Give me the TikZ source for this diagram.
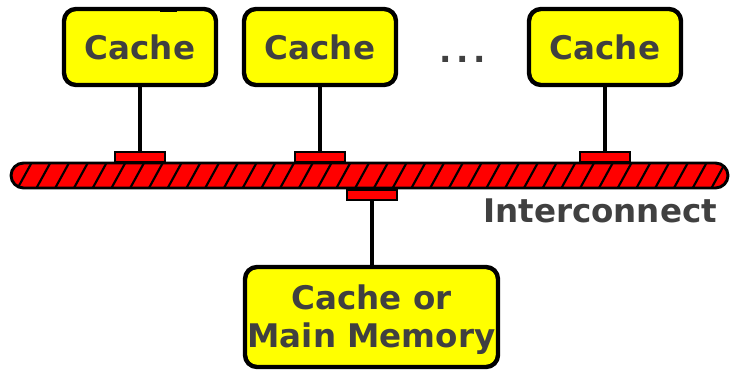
\documentclass[tikz,border=0pt]{standalone}
\usepackage{fontspec}
\setmainfont{DejaVu Sans}
\definecolor{textgray}{HTML}{404040}
\definecolor{boxyellow}{HTML}{FFFF00}
\definecolor{busred}{HTML}{FF0000}
\tikzset{
  unitbox/.style={draw=black, line width=3.3pt, fill=boxyellow, rounded corners=9pt,
    inner sep=0pt, text=textgray, align=center,
    font=\bfseries\fontsize{24.4}{28.5}\selectfont},
  tap/.style={draw=black, line width=1.6pt, fill=busred, inner sep=0pt,
    minimum width=50*0.75pt, minimum height=10*0.75pt},
  stem/.style={line width=3.3pt, black},
  hatch/.style={line width=1.6pt, black},
  label/.style={text=textgray, inner sep=0pt, align=center,
    font=\bfseries\fontsize{24.4}{28.5}\selectfont}
}
\begin{document}
\begin{tikzpicture}[x=0.75pt, y=-0.75pt]
\useasboundingbox (0,0) rectangle (730,371);

% processor-side caches
\node[unitbox, minimum width=152*0.75pt, minimum height=76*0.75pt] (cache1) at (140,47) {Cache};
\node[unitbox, minimum width=152*0.75pt, minimum height=76*0.75pt] (cache2) at (320,47) {Cache};
\node[unitbox, minimum width=152*0.75pt, minimum height=76*0.75pt] (cache3) at (605,47) {Cache};
\node[label, anchor=base] (dots) at (463,62) {.\kern3.6pt.\kern3.6pt.};
\fill[black] (160,7) rectangle (177,12);

% shared memory below the bus
\node[unitbox, minimum width=253*0.75pt, minimum height=100*0.75pt] (mem) at (371.5,317) {};
\node[label] (memtext) at (371.5,320) {Cache or\\Main Memory};

% hatched interconnect bus
\node[draw=black, line width=2.2pt, fill=busred, rounded corners=9.4pt, inner sep=0pt,
  minimum width=717*0.75pt, minimum height=25*0.75pt,
  path picture={
    \foreach \i in {0,...,40}
      \draw[hatch] ([xshift=-13.5*0.75pt+\i*18.75*0.75pt, yshift=-2pt]path picture bounding box.south west)
        -- ++(16.5*0.75pt, 30*0.75pt);
  }] (bus) at (369.5,175.5) {};
\node[label, anchor=base west] (buslabel) at (483,222) {Interconnect};

% bus taps
\node[tap] (tap1) at (140,157) {};
\node[tap] (tap2) at (320,157) {};
\node[tap] (tap3) at (605,157) {};
\node[tap] (tap4) at (372,195) {};

% connections
\draw[stem] (cache1.south) -- (tap1.north);
\draw[stem] (cache2.south) -- (tap2.north);
\draw[stem] (cache3.south) -- (tap3.north);
\draw[stem] (tap4.south) -- (tap4.south |- mem.north);
\end{tikzpicture}
\end{document}
